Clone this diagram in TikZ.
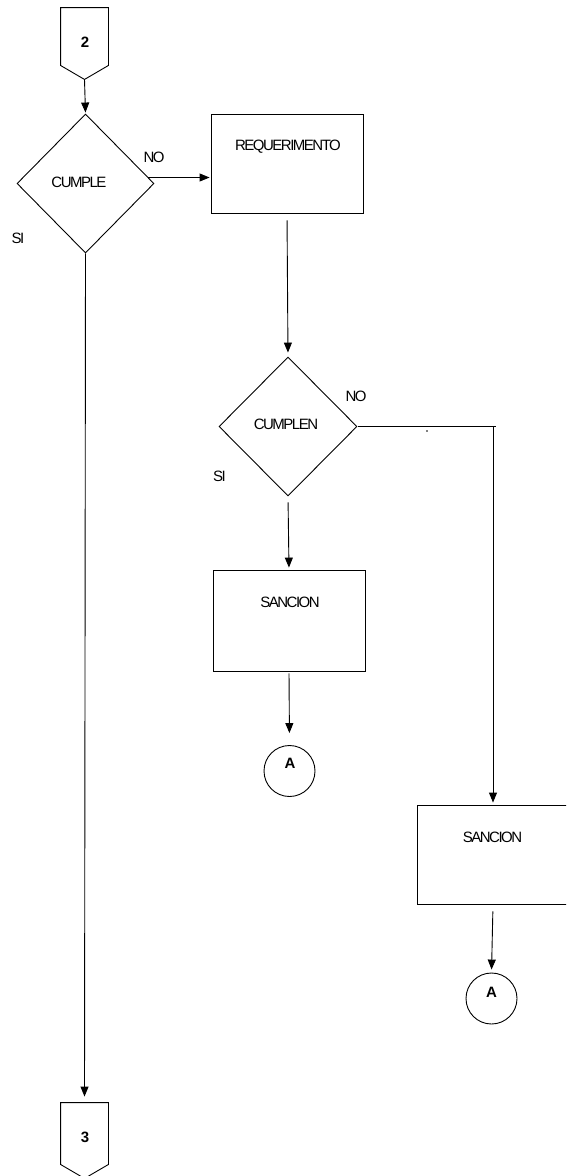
\documentclass[tikz,border=0pt]{standalone}
\usepackage{fontspec}
\setmainfont{Liberation Sans}
\newfontfamily\tightfont[LetterSpace=-10]{Liberation Sans}
\usetikzlibrary{shapes.geometric,arrows.meta,calc}
\begin{document}
\begin{tikzpicture}[x=1pt,y=-1pt,
  line width=0.9pt,
  box/.style={draw,rectangle,minimum width=152pt,inner sep=0pt},
  dec/.style={draw,diamond,minimum width=137pt,minimum height=139pt,inner sep=0pt},
  circ/.style={draw,circle,minimum size=51pt,inner sep=0pt},
  conn/.style={minimum width=47pt,inner sep=0pt},
  txt/.style={inner sep=0pt,font=\tightfont\fontsize{15pt}{15pt}\selectfont},
  btxt/.style={inner sep=0pt,font=\bfseries\fontsize{15pt}{15pt}\selectfont},
  arr/.style={-{Triangle[length=10pt,width=8pt]}},
]
\useasboundingbox (0,0) rectangle (566,1176);
\clip (0,0) rectangle (566,1176);

% off-page connector 2
\node[conn,minimum height=71pt] (c2) at (84.5,43.5) {};
\draw (c2.north west) -- (c2.north east) -- ($(c2.south east)+(0,-14)$)
      -- (c2.south) -- ($(c2.south west)+(0,-14)$) -- cycle;
\node[btxt] (t2) at (85,42) {2};

% decision CUMPLE
\node[dec] (cumple) at (85.5,183.5) {};
\node[txt] (tcumple) at (79,182) {CUMPLE};
\node[txt] (no1) at (154,157) {NO};
\node[txt] (si1) at (18,238) {SI};

% REQUERIMENTO
\node[box,minimum height=99pt] (req) at (287,163.5) {};
\node[txt] (treq) at (288,147) {REQUERIMENTO};

% decision CUMPLEN
\node[dec,minimum height=139pt,minimum width=138pt] (cumplen) at (288,426.5) {};
\node[txt] (tcumplen) at (286,424) {CUMPLEN};
\node[txt] (no2) at (356,396) {NO};
\node[txt] (si2) at (219.5,476) {SI};

% SANCION 1
\node[box,minimum height=101pt] (s1) at (289,620.5) {};
\node[txt] (ts1) at (290,602) {SANCION};

% SANCION 2
\node[box,minimum height=99pt] (s2) at (493,854.5) {};
\node[txt] (ts2) at (492.5,837) {SANCION};

% connectors A
\node[circ] (a1) at (289.5,771) {};
\node[btxt] (ta1) at (290,763) {A};
\node[circ] (a2) at (491.5,998.5) {};
\node[btxt] (ta2) at (491.5,992) {A};

% off-page connector 3
\node[conn,minimum height=75pt] (c3) at (84.5,1140.5) {};
\draw (c3.north west) -- (c3.north east) -- ($(c3.south east)+(0,-14)$)
      -- (c3.south) -- ($(c3.south west)+(0,-14)$) -- cycle;
\node[btxt] (t3) at (85,1137) {3};

% stray dot
\fill (427,431) circle (0.8pt);

% connectors
\draw[arr,shorten >=1pt] (c2.south) -- (cumple.north);
\coordinate (noout) at ($(cumple.east)+(-6,-6)$);
\draw[arr,shorten >=1pt] (noout) -- (noout -| req.west);
\draw[arr,shorten <=7pt,shorten >=4pt] (req.south) -- (cumplen.north);
\draw[arr,shorten <=6pt,shorten >=2pt] (cumplen.south) -- (s1.north);
\draw[arr,shorten <=2pt,shorten >=12pt] (s1.south) -- (a1.north);
\draw[arr,shorten <=7pt,shorten >=3pt] (s2.south) -- (a2.north);
\draw[arr,shorten >=6pt] (cumple.south) -- (c3.north);
\coordinate (corner) at (cumplen.east -| s2.north);
\draw ($(cumplen.east)+(1,0)$) -- ($(corner)+(3,0)$);
\draw[arr,shorten >=2pt] (corner) -- (s2.north);
\end{tikzpicture}
\end{document}
